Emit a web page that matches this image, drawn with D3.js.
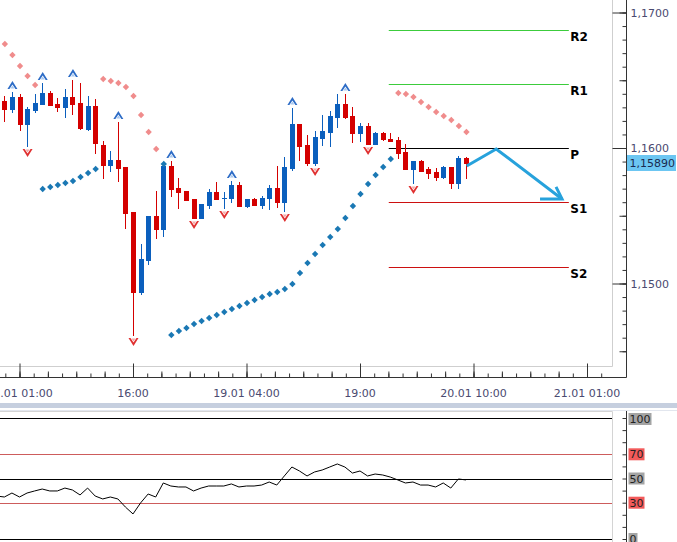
<!DOCTYPE html>
<html><head><meta charset="utf-8">
<script src="https://cdn.jsdelivr.net/npm/d3@7"></script>
<style>body{margin:0;background:#fff;overflow:hidden}svg{display:block;font-family:"DejaVu Sans",Verdana,sans-serif}</style>
</head><body><svg id="c" width="677" height="542"></svg>
<script>
// ---------- DATA ----------
const firstBar = -2; // bar index of first candle (index 0 = 18.01 01:00)
const opens  = [1.16347,1.16288,1.16376,1.16177,1.16280,1.16325,1.16406,1.16325,1.16303,1.16376,1.16332,1.16140,1.16310,1.16022,1.15875,1.15911,1.15860,1.15528,1.14937,1.15173,1.15498,1.15402,1.15867,1.15705,1.15683,1.15624,1.15483,1.15579,1.15675,1.15631,1.15631,1.15727,1.15572,1.15624,1.15579,1.15631,1.15705,1.15601,1.15852,1.16177,1.16022,1.15889,1.16074,1.16118,1.16229,1.16325,1.16236,1.16111,1.16162,1.16030,1.16111,1.16066,1.16059,1.15970,1.15845,1.15904,1.15845,1.15823,1.15786,1.15860,1.15742,1.15926];
const highs  = [1.16384,1.16413,1.16399,1.16303,1.16399,1.16480,1.16421,1.16369,1.16435,1.16502,1.16480,1.16384,1.16362,1.16052,1.15978,1.16192,1.15860,1.15528,1.15292,1.15498,1.15683,1.15889,1.15904,1.15779,1.15683,1.15624,1.15587,1.15697,1.15749,1.15675,1.15756,1.15749,1.15624,1.15631,1.15646,1.15727,1.15867,1.15934,1.16295,1.16177,1.16096,1.16125,1.16244,1.16273,1.16399,1.16399,1.16303,1.16185,1.16185,1.16118,1.16118,1.16111,1.16081,1.16030,1.15904,1.15911,1.15860,1.15852,1.15867,1.15860,1.15941,1.15934];
const lows   = [1.16199,1.16266,1.16133,1.16015,1.16266,1.16325,1.16317,1.16273,1.16229,1.16251,1.16140,1.16133,1.15963,1.15779,1.15830,1.15756,1.15410,1.14620,1.14923,1.15144,1.15336,1.15351,1.15646,1.15557,1.15616,1.15483,1.15483,1.15557,1.15624,1.15557,1.15601,1.15572,1.15565,1.15579,1.15557,1.15550,1.15565,1.15535,1.15838,1.15911,1.15875,1.15875,1.16022,1.16015,1.16155,1.16221,1.16044,1.16052,1.16030,1.16030,1.16059,1.16052,1.15926,1.15845,1.15742,1.15830,1.15779,1.15764,1.15779,1.15705,1.15705,1.15779];
const closes = [1.16288,1.16376,1.16177,1.16288,1.16332,1.16406,1.16317,1.16303,1.16376,1.16325,1.16148,1.16310,1.16037,1.15875,1.15911,1.15852,1.15520,1.14937,1.15181,1.15498,1.15402,1.15867,1.15697,1.15675,1.15616,1.15483,1.15587,1.15675,1.15624,1.15634,1.15727,1.15572,1.15624,1.15579,1.15631,1.15705,1.15601,1.15860,1.16177,1.16015,1.15889,1.16081,1.16125,1.16236,1.16325,1.16229,1.16111,1.16162,1.16030,1.16111,1.16066,1.16052,1.15963,1.15845,1.15904,1.15830,1.15815,1.15786,1.15860,1.15742,1.15926,1.15889];

// Parabolic SAR, one value per candle (same index as candles)
const sarValues = [1.16768,1.16686,1.16605,1.16531,1.16465,
  1.15697,1.15712,1.15727,1.15742,1.15756,1.15786,1.15815,1.15845,
  1.16509,1.16494,1.16480,1.16450,1.16384,1.16244,1.16118,1.15993,1.15882,
  1.14620,1.14649,1.14672,1.14701,1.14723,1.14745,1.14768,1.14790,1.14812,1.14834,1.14856,1.14878,1.14900,1.14923,1.14937,1.14959,1.14996,1.15077,1.15151,1.15218,1.15284,1.15343,1.15402,1.15483,1.15572,1.15661,1.15734,1.15801,1.15860,1.15919,
  1.16406,1.16399,1.16376,1.16339,1.16303,1.16266,1.16236,1.16207,1.16162,1.16118];

const upFractals   = [-1,3,7,13,20,28,36,43];
const downFractals = [1,15,23,27,35,39,46,52];

const rsiFirstBar = -3;
const rsiValues = [35.5,34.7,38.0,34.7,38.0,39.7,41.3,39.7,39.7,42.1,40.5,36.4,42.1,35.5,33.1,34.7,33.1,26.4,20.7,29.8,37.2,34.7,46.3,43.8,43.0,43.0,39.7,42.1,43.8,43.8,43.8,45.5,43.0,43.8,43.8,44.6,47.1,44.6,52.1,59.5,56.2,52.1,55.4,57.0,59.5,62.0,59.5,54.5,56.2,52.1,53.7,52.9,51.2,48.8,46.3,47.1,44.6,44.6,43.0,46.3,42.1,49.6,48.8];

const pivotNames  = ["R2","R1","P","S1","S2"];
const pivotValues = [1.16871,1.16472,1.16000,1.15601,1.15122];
const pivotColors = ["#3ccc3c","#3ccc3c","#000000","#cc1010","#cc1010"];
const pivotFrom = 48.8, pivotTo = 72.6;

const forecastBars   = [59.1, 63.0, 71.7];
const forecastPrices = [1.15867, 1.15993, 1.15624];

const timeTickBars   = [0,15,30,45,60,75];
const timeTickLabels = ["18.01 01:00","16:00","19.01 04:00","19:00","20.01 10:00","21.01 01:00"];
const priceMajor = [1.15,1.16,1.17];
const currentPrice = 1.15890;
const rsiLevels = [100,70,50,30,0];
const rsiLevelColors = ["#000","#cd5c5c","#000","#cd5c5c","#000"];
const rsiLabelBg = ["#a4a4a4","#f25a5a","#a4a4a4","#f25a5a","#a4a4a4"];

// ---------- LAYOUT ----------
const svg = d3.select("#c");
const plotW = 612, mainH = 366, axisX = 626, timeAxisY = 377;
const rsiTop = 411, rsiBottom = 542;
const x = d3.scaleLinear().domain([0,75]).range([19.5,587]);
const y = d3.scaleLinear().domain([1.15,1.17]).range([283.5,12.5]);
const yr = d3.scaleLinear().domain([0,100]).range([539,418]);
const loc = d3.formatLocale({decimal:",",thousands:".",grouping:[3],currency:["",""]});
const f4 = loc.format(".4f"), f5 = loc.format(".5f");

const defs = svg.append("defs");
defs.append("clipPath").attr("id","cm").append("rect").attr("x",0).attr("y",0).attr("width",plotW).attr("height",mainH);
defs.append("clipPath").attr("id","cr").append("rect").attr("x",0).attr("y",rsiTop).attr("width",plotW).attr("height",rsiBottom-rsiTop);

const candles = opens.map((o,k)=>({i:firstBar+k,o,h:highs[k],l:lows[k],c:closes[k]}));

// plot borders
svg.append("path").attr("d",`M${plotW+0.5},0V${mainH+0.5}H0`).attr("fill","none").attr("stroke","#cfcfcf");

const main = svg.append("g").attr("clip-path","url(#cm)");

// pivot lines
pivotValues.forEach((v,k)=>{
  const yy = Math.round(y(v))+0.5;
  main.append("line").attr("x1",x(pivotFrom)).attr("x2",x(pivotTo)).attr("y1",yy).attr("y2",yy)
    .attr("stroke",pivotColors[k]).attr("stroke-width",1);
  main.append("text").attr("x",x(pivotTo)+1.5).attr("y",yy+10.5).text(pivotNames[k])
    .attr("font-size",12).attr("font-weight","bold").attr("fill","#000");
});

// candles
const cg = main.append("g");
candles.forEach(d=>{
  const cx = Math.round(x(d.i));
  const col = d.c>=d.o ? "#0b5fbd" : "#d40000";
  cg.append("line").attr("x1",cx+0.5).attr("x2",cx+0.5).attr("y1",Math.round(y(d.h))).attr("y2",Math.round(y(d.l))+1).attr("stroke",col);
  const t = Math.round(y(Math.max(d.o,d.c))), b = Math.round(y(Math.min(d.o,d.c)));
  cg.append("rect").attr("x",cx-2).attr("width",5).attr("y",t).attr("height",Math.max(1,b-t+1)).attr("fill",col);
});

// SAR diamonds
const sg = main.append("g");
sarValues.forEach((v,k)=>{
  const d = candles[k];
  const above = v > d.h;
  sg.append("path").attr("d","M0,-3.2L3.2,0L0,3.2L-3.2,0Z")
    .attr("transform",`translate(${x(d.i)+0.5},${y(v)})`)
    .attr("fill", above ? "#f08c8c" : "#1a78b4");
});

// fractals
const fg = main.append("g");
upFractals.forEach(i=>{
  const d = candles[i-firstBar];
  const g = fg.append("g").attr("transform",`translate(${x(d.i)+0.5},${y(d.h)-7})`);
  g.append("path").attr("d","M-5,4L0,-4L5,4L3,4L0,-0.5L-3,4Z").attr("fill","#2d6cc6");
  g.append("path").attr("d","M-2,3.5L0,0.5L2,3.5Z").attr("fill","#a9c9f0");
});
downFractals.forEach(i=>{
  const d = candles[i-firstBar];
  const g = fg.append("g").attr("transform",`translate(${x(d.i)+0.5},${y(d.l)+7})`);
  g.append("path").attr("d","M-5,-4L0,4L5,-4L3,-4L0,0.5L-3,-4Z").attr("fill","#e03030");
  g.append("path").attr("d","M-2,-3.5L0,-0.5L2,-3.5Z").attr("fill","#f5a8a8");
});

// forecast arrow
const fpts = forecastBars.map((b,k)=>[x(b),y(forecastPrices[k])]);
main.append("path").attr("d",d3.line()(fpts)).attr("fill","none").attr("stroke","#27a2dc").attr("stroke-width",3).attr("stroke-linejoin","miter");
const end = fpts[2];
main.append("path").attr("d",`M${end[0]-22},${end[1]}L${end[0]},${end[1]}L${end[0]-6},${end[1]-12}`)
  .attr("fill","none").attr("stroke","#27a2dc").attr("stroke-width",3);

// price axis
const pa = svg.append("g").attr("transform",`translate(${axisX+0.5},0)`);
pa.append("line").attr("x1",0).attr("x2",0).attr("y1",0).attr("y2",timeAxisY+0.5).attr("stroke","#333");
const minorP = d3.range(1.145,1.1725,0.001).map(v=>+v.toFixed(3));
pa.append("g").call(d3.axisLeft(y).tickValues(minorP).tickSize(4).tickFormat("")).call(g=>{g.select(".domain").remove();g.selectAll("line").attr("stroke","#333");});
pa.append("g").call(d3.axisLeft(y).tickValues(minorP.filter(v=>Math.abs(v*200-Math.round(v*200))<1e-6)).tickSize(7).tickFormat("")).call(g=>{g.select(".domain").remove();g.selectAll("line").attr("stroke","#333");});
pa.append("g").call(d3.axisLeft(y).tickValues(priceMajor).tickSize(14).tickFormat("")).call(g=>{g.select(".domain").remove();g.selectAll("line").attr("stroke","#333");});
priceMajor.forEach(v=>{
  pa.append("text").attr("x",4).attr("y",y(v)+4).text(f4(v)).attr("font-size",11).attr("fill","#4a4a70");
});
pa.append("rect").attr("x",0.5).attr("y",Math.round(y(currentPrice))-8).attr("width",49).attr("height",16).attr("fill","#6cc6f2");
pa.append("text").attr("x",3).attr("y",y(currentPrice)+4).text(f5(currentPrice)).attr("font-size",11).attr("fill","#1a2a50");

// time axis
const ta = svg.append("g").attr("transform",`translate(0,${timeAxisY+0.5})`);
ta.append("line").attr("x1",0).attr("x2",axisX+0.5).attr("stroke","#333");
const minorT = d3.range(-2*8, 76*8/15+1).map(k=>k*15/8).filter(v=>x(v)>=0 && x(v)<=axisX);
ta.append("g").call(d3.axisTop(x).tickValues(minorT).tickSize(4).tickFormat("")).call(g=>{g.select(".domain").remove();g.selectAll("line").attr("stroke","#333");});
ta.append("g").call(d3.axisTop(x).tickValues(minorT.filter((v,k)=>Math.abs(v/3.75-Math.round(v/3.75))<1e-6)).tickSize(6).tickFormat("")).call(g=>{g.select(".domain").remove();g.selectAll("line").attr("stroke","#333");});
ta.append("g").call(d3.axisTop(x).tickValues(timeTickBars).tickSize(14).tickFormat("")).call(g=>{g.select(".domain").remove();g.selectAll("line").attr("stroke","#333");});
timeTickBars.forEach((b,k)=>{
  ta.append("text").attr("x",x(b)).attr("y",19).attr("text-anchor","middle").text(timeTickLabels[k]).attr("font-size",11).attr("fill","#4a4a70");
});

// separator
svg.append("rect").attr("x",0).attr("y",403).attr("width",677).attr("height",5).attr("fill","#c6cfdf");
svg.append("line").attr("x1",0).attr("x2",677).attr("y1",410.5).attr("y2",410.5).attr("stroke","#e2e6ee");

// RSI panel
svg.append("path").attr("d",`M0,${rsiTop+0.5}H${plotW+0.5}V${rsiBottom}`).attr("fill","none").attr("stroke","#d4d4d4");
const rg = svg.append("g").attr("clip-path","url(#cr)");
rsiLevels.forEach((v,k)=>{
  const yy = Math.round(yr(v))+0.5;
  rg.append("line").attr("x1",0).attr("x2",plotW).attr("y1",yy).attr("y2",yy).attr("stroke",rsiLevelColors[k]);
});
rg.append("path").datum(rsiValues).attr("d",d3.line().x((v,k)=>x(rsiFirstBar+k)).y(v=>yr(v)))
  .attr("fill","none").attr("stroke","#000").attr("stroke-width",1);
const ra = svg.append("g").attr("transform",`translate(${axisX+0.5},0)`);
ra.append("line").attr("y1",rsiTop).attr("y2",rsiBottom).attr("stroke","#333");
ra.append("g").call(d3.axisLeft(yr).tickValues(d3.range(0,101,10)).tickSize(4).tickFormat("")).call(g=>{g.select(".domain").remove();g.selectAll("line").attr("stroke","#333");});
rsiLevels.forEach((v,k)=>{
  const w = String(v).length*7+2;
  const ly = Math.max(yr(v), 419);
  ra.append("rect").attr("x",2).attr("y",ly-6).attr("width",w).attr("height",12).attr("fill",rsiLabelBg[k]);
  ra.append("text").attr("x",3).attr("y",ly+4).text(v).attr("font-size",11).attr("fill","#222");
});
</script></body></html>
